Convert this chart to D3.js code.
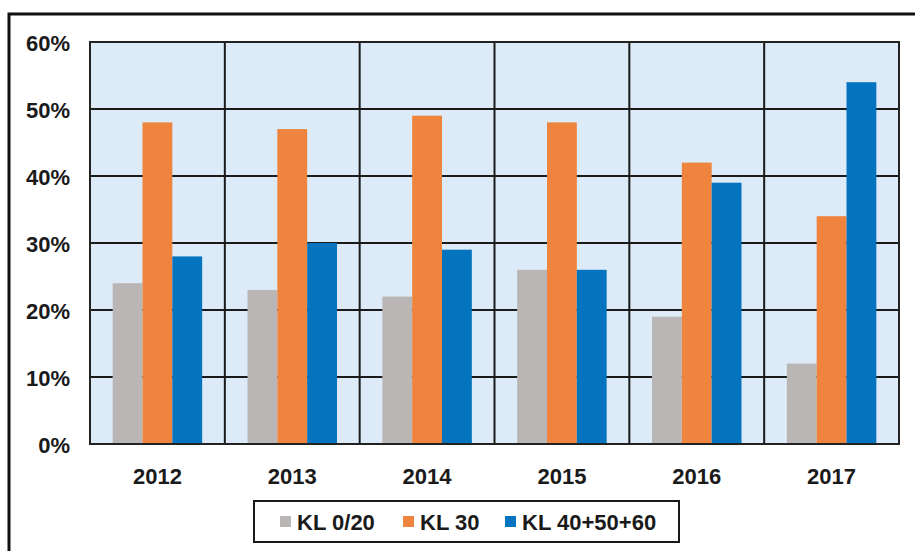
<!DOCTYPE html>
<html>
<head>
<meta charset="utf-8">
<script src="https://cdn.jsdelivr.net/npm/d3@7"></script>
<style>
  body { margin: 0; background: #fff; }
  svg text { font-family: "Liberation Sans", Arial, sans-serif; font-weight: bold; fill: #1a1a1a; }
</style>
</head>
<body>
<div id="chart"></div>
<script>
// data
var years = ["2012", "2013", "2014", "2015", "2016", "2017"];
var seriesNames = ["KL 0/20", "KL 30", "KL 40+50+60"];
var kl020 = [24, 23, 22, 26, 19, 12];
var kl30 = [48, 47, 49, 48, 42, 34];
var kl405060 = [28, 30, 29, 26, 39, 54];
var yTicks = [0, 10, 20, 30, 40, 50, 60];
var colors = ["#bab6b5", "#ee843d", "#0474bf"];

var allSeries = [kl020, kl30, kl405060];
var rows = years.map(function(y, i){
  return {year: y, values: allSeries.map(function(s, k){ return {key: seriesNames[k], value: s[i]}; })};
});

var svgWidth = 915, svgHeight = 551;
var svg = d3.select("#chart").append("svg")
  .attr("width", svgWidth)
  .attr("height", svgHeight);

// outer frame (runs off the right / bottom edge)
svg.append("rect")
  .attr("x", 9).attr("y", 14)
  .attr("width", 940).attr("height", 600)
  .attr("fill", "none")
  .attr("stroke", "#111")
  .attr("stroke-width", 3);

var plotLeft = 90, plotRight = 899, plotTop = 42, plotBottom = 444;

var x = d3.scaleBand()
  .domain(years)
  .range([plotLeft, plotRight])
  .paddingInner(0).paddingOuter(0);

var xSub = d3.scaleBand()
  .domain(seriesNames)
  .range([0, x.bandwidth()])
  .paddingInner(0)
  .paddingOuter(0.76);

var y = d3.scaleLinear()
  .domain([0, 60])
  .range([plotBottom, plotTop]);

// plot background
svg.append("rect")
  .attr("x", plotLeft).attr("y", plotTop)
  .attr("width", plotRight - plotLeft).attr("height", plotBottom - plotTop)
  .attr("fill", "#dcebf7");

// horizontal grid
svg.append("g").selectAll("line")
  .data(yTicks)
  .enter().append("line")
    .attr("x1", plotLeft).attr("x2", plotRight)
    .attr("y1", function(d){ return y(d); })
    .attr("y2", function(d){ return y(d); })
    .attr("stroke", "#1a1a1a")
    .attr("stroke-width", 2);

// vertical grid between categories
svg.append("g").selectAll("line")
  .data(years.slice(1))
  .enter().append("line")
    .attr("x1", function(d){ return x(d); })
    .attr("x2", function(d){ return x(d); })
    .attr("y1", plotTop).attr("y2", plotBottom)
    .attr("stroke", "#1a1a1a")
    .attr("stroke-width", 2);

// bars
var groups = svg.append("g").selectAll("g")
  .data(rows)
  .enter().append("g")
    .attr("transform", function(d){ return "translate(" + x(d.year) + ",0)"; });

groups.selectAll("rect")
  .data(function(d){ return d.values; })
  .enter().append("rect")
    .attr("x", function(d){ return xSub(d.key); })
    .attr("width", xSub.bandwidth())
    .attr("y", function(d){ return y(d.value); })
    .attr("height", function(d){ return plotBottom - y(d.value); })
    .attr("fill", function(d, i){ return colors[i]; });

// plot border
svg.append("rect")
  .attr("x", plotLeft).attr("y", plotTop)
  .attr("width", plotRight - plotLeft).attr("height", plotBottom - plotTop)
  .attr("fill", "none")
  .attr("stroke", "#222")
  .attr("stroke-width", 2);

// y axis labels
var yAxis = d3.axisLeft(y)
  .tickValues(yTicks)
  .tickFormat(function(d){ return d + "%"; })
  .tickSize(0)
  .tickPadding(20);
var yG = svg.append("g")
  .attr("transform", "translate(" + plotLeft + ",0)")
  .call(yAxis);
yG.select(".domain").remove();
yG.selectAll("text")
  .attr("font-size", "22px")
  .attr("font-family", null)
  .attr("dy", "0.4em");

// x axis labels
var xAxis = d3.axisBottom(x).tickSize(0).tickPadding(24);
var xG = svg.append("g")
  .attr("transform", "translate(0," + plotBottom + ")")
  .call(xAxis);
xG.select(".domain").remove();
xG.selectAll("text")
  .attr("font-size", "22px")
  .attr("font-family", null);

// legend
var legend = svg.append("g");
legend.append("rect")
  .attr("x", 254).attr("y", 501)
  .attr("width", 425).attr("height", 41)
  .attr("fill", "#fff")
  .attr("stroke", "#1a1a1a")
  .attr("stroke-width", 2);

var legendX = [280, 403, 505];
var items = legend.selectAll("g.item")
  .data(seriesNames)
  .enter().append("g")
    .attr("class", "item")
    .attr("transform", function(d, i){ return "translate(" + legendX[i] + ",522)"; });
items.append("rect")
  .attr("x", 0).attr("y", -6)
  .attr("width", 11).attr("height", 11)
  .attr("fill", function(d, i){ return colors[i]; });
items.append("text")
  .attr("x", 17).attr("y", 0)
  .attr("dy", "0.36em")
  .attr("font-size", "22px")
  .text(function(d){ return d; });
</script>
</body>
</html>
